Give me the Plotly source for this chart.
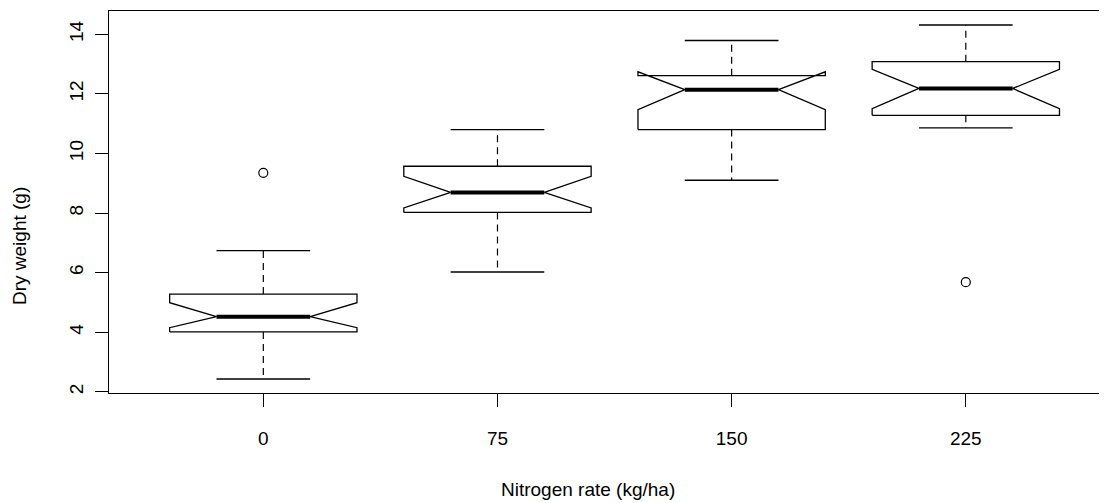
import plotly.graph_objects as go

# ---- data ----
groups = ["0", "75", "150", "225"]
lower_whisker = [2.43, 6.02, 9.10, 10.86]
q1 = [4.01, 8.02, 10.80, 11.28]
median = [4.52, 8.69, 12.14, 12.18]
q3 = [5.28, 9.57, 12.61, 13.08]
upper_whisker = [6.74, 10.80, 13.79, 14.31]
notch_low = [4.15, 8.17, 11.47, 11.50]
notch_high = [4.99, 9.23, 12.74, 12.82]
outliers = [[9.35], [], [], [5.68]]
y_ticks = [2, 4, 6, 8, 10, 12, 14]

FONT = "Liberation Sans, Arial, Helvetica, sans-serif"
FS = 19
W = 0.4   # half box width (category units)

fig = go.Figure()

box_x, box_y = [], []
wh_x, wh_y = [], []
cap_x, cap_y = [], []
med_x, med_y = [], []
out_x, out_y = [], []
for i, g in enumerate(groups):
    c = i + 1
    box_x += [c - W, c - W, c - W / 2, c - W, c - W, c + W, c + W, c + W / 2, c + W, c + W, c - W, None]
    box_y += [q1[i], notch_low[i], median[i], notch_high[i], q3[i], q3[i], notch_high[i], median[i],
              notch_low[i], q1[i], q1[i], None]
    wh_x += [c, c, None, c, c, None]
    wh_y += [q3[i], upper_whisker[i], None, q1[i], lower_whisker[i], None]
    cap_x += [c - W / 2, c + W / 2, None, c - W / 2, c + W / 2, None]
    cap_y += [upper_whisker[i], upper_whisker[i], None, lower_whisker[i], lower_whisker[i], None]
    med_x += [c - W / 2, c + W / 2, None]
    med_y += [median[i], median[i], None]
    for o in outliers[i]:
        out_x.append(c)
        out_y.append(o)

fig.add_trace(go.Scatter(x=wh_x, y=wh_y, mode="lines",
                         line=dict(color="black", width=1.2, dash="7px,5px"), hoverinfo="skip"))
fig.add_trace(go.Scatter(x=cap_x, y=cap_y, mode="lines",
                         line=dict(color="black", width=1.3), hoverinfo="skip"))
fig.add_trace(go.Scatter(x=box_x, y=box_y, mode="lines",
                         line=dict(color="black", width=1.3), hoverinfo="skip"))
fig.add_trace(go.Scatter(x=med_x, y=med_y, mode="lines",
                         line=dict(color="black", width=4), hoverinfo="skip"))
fig.add_trace(go.Scatter(x=out_x, y=out_y, mode="markers",
                         marker=dict(symbol="circle-open", size=9, color="black", line=dict(width=1.2)),
                         hoverinfo="skip"))

# page body has an 8px margin, so the figure is sized to fit inside the 1107x503 window
fig.update_layout(
    width=1099, height=495,
    margin=dict(l=101, r=0, t=3, b=110),
    paper_bgcolor="white", plot_bgcolor="white",
    showlegend=False,
    font=dict(family=FONT, size=FS, color="black"),
    xaxis=dict(range=[0.341, 4.603], tickvals=[1, 2, 3, 4], ticktext=groups,
               showline=True, linecolor="black", linewidth=1.3, mirror=True,
               ticks="outside", ticklen=13, tickwidth=1.3, tickcolor="black",
               showgrid=False, zeroline=False, ticklabelstandoff=15),
    yaxis=dict(range=[1.96, 14.78], tickvals=y_ticks, ticktext=[str(v) for v in y_ticks],
               tickangle=-90,
               showline=True, linecolor="black", linewidth=1.3,
               ticks="outside", ticklen=13, tickwidth=1.3, tickcolor="black",
               showgrid=False, zeroline=False, ticklabelstandoff=4),
    annotations=[
        dict(text="Nitrogen rate (kg/ha)", xref="paper", yref="paper",
             x=(587.5 - 109) / 998, y=0, xanchor="center", yanchor="middle",
             yshift=-96, showarrow=False, font=dict(family=FONT, size=FS, color="black")),
        dict(text="Dry weight (g)", xref="paper", yref="paper",
             x=0, y=(393 - 246) / 382, xanchor="center", yanchor="middle",
             xshift=-90, textangle=-90, showarrow=False,
             font=dict(family=FONT, size=FS, color="black")),
    ],
)

fig.write_html("out.html")
